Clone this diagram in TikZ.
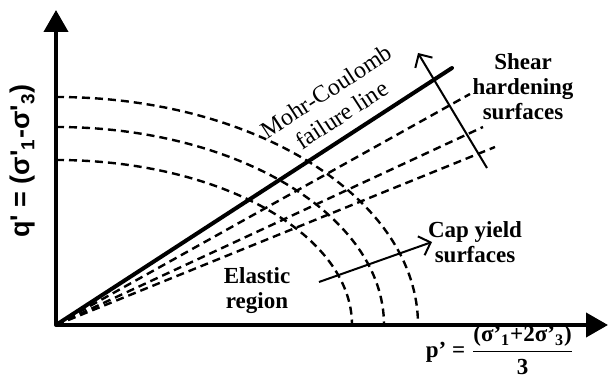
\documentclass[tikz,border=0pt]{standalone}
\usepackage{amsmath}
\usepackage{fontspec}
\setmainfont{Liberation Serif}
\newfontfamily\axisfont{Liberation Sans}
\usetikzlibrary{arrows.meta}

\begin{document}
\begin{tikzpicture}[x=0.5pt, y=0.5pt, font=\fontsize{12}{14}\selectfont]
        \tikzstyle{axis} = [line width=2pt, -{Triangle[width=12pt,length=11pt]}]
        \tikzstyle{failure} = [line width=2pt, line cap=round]
        \tikzstyle{surface} = [line width=1.2pt, dash pattern=on 4pt off 2.5pt]
        \tikzstyle{trend} = [line width=1pt, -{Straight Barb[length=5pt,width=10pt]}]
        \tikzstyle{label} = [align=center, font=\bfseries\fontsize{11.5}{12.5}\selectfont]

        \useasboundingbox (0,0) rectangle (608,379);

        % axes
        \coordinate (O) at (56,54);
        \coordinate (qtip) at (56,369);
        \coordinate (ptip) at (608,54);
        \draw [axis] (O) -- (qtip);
        \draw [axis] (O) -- (ptip);

        % failure line and shear hardening surfaces
        \coordinate (mc) at (452,311);
        \coordinate (sh1) at (470,285);
        \coordinate (sh2) at (483,252);
        \coordinate (sh3) at (495,232);
        \foreach \s in {sh1,sh2,sh3}
            \draw [surface] (O) -- (\s);
        \draw [failure] (O) -- (mc);

        % cap yield surfaces
        \foreach \a/\b in {296/165, 328/198, 362/228}
            \draw [surface] (56,54+\b) arc [start angle=90, end angle=0, x radius=\a, y radius=\b];

        % trend arrows
        \coordinate (shfrom) at (487,211);
        \coordinate (shto) at (418,326);
        \coordinate (capfrom) at (319,97);
        \coordinate (capto) at (432,137);
        \draw [trend] (shfrom) -- (shto);
        \draw [trend] (capfrom) -- (capto);

        % labels
        \node [align=center, rotate=33] (mclabel) at (334,276) {Mohr-Coulomb\\failure line};
        \node [label] (shlabel) at (523,292) {Shear\\hardening\\surfaces};
        \node [label] (caplabel) at (475,137) {Cap yield\\surfaces};
        \node [label] (elastic) at (257,88) {Elastic\\region};
        \node [label, font=\axisfont\bfseries\fontsize{13.5}{15}\selectfont, rotate=90] (qlabel) at (23,218)
            {q' = (σ'\textsubscript{1}-σ'\textsubscript{3})};
        \node [label] (plabel) at (500,29)
            {p' = $\dfrac{\text{(σ'\textsubscript{1}+2σ'\textsubscript{3})}}{\text{3}}$};
\end{tikzpicture}
\end{document}
